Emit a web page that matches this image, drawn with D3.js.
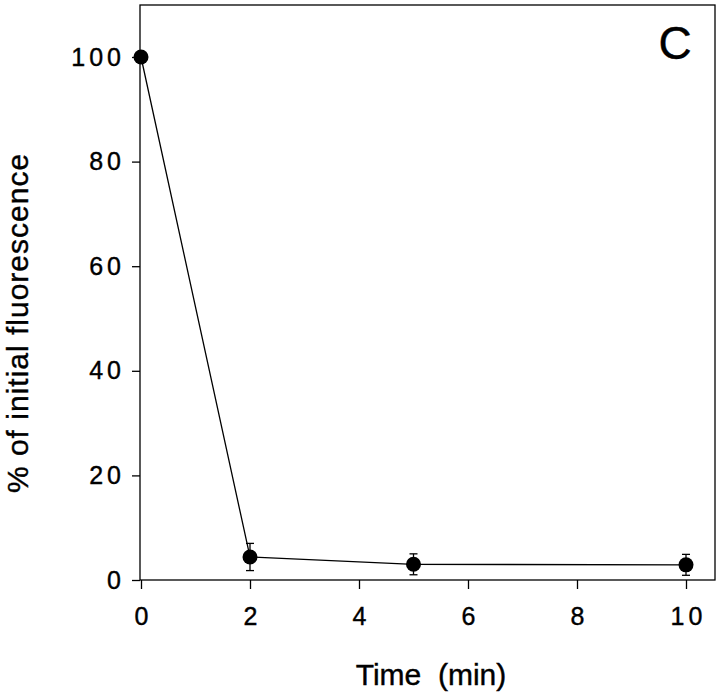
<!DOCTYPE html>
<html><head><meta charset="utf-8">
<script src="https://cdn.jsdelivr.net/npm/d3@7"></script>
<style>body{margin:0;background:#fff}svg{display:block}text{stroke:#000;stroke-width:0.4px}</style>
</head><body>
<script>
const times = [0, 2, 5, 10];
const values = [100, 4.4, 3.0, 2.9];
const errors = [0, 2.6, 2.0, 2.0];
const xTicks = [0, 2, 4, 6, 8, 10];
const yTicks = [0, 20, 40, 60, 80, 100];

(function () {
const W = 720, H = 694;
const svg = d3.select("body").append("svg").attr("width", W).attr("height", H);
const x = d3.scaleLinear().domain([0, 10]).range([141, 686]);
const y = d3.scaleLinear().domain([0, 100]).range([580, 57]);
const pL = 140, pR = 715, pT = 5, pB = 580;
const ls = 4;

svg.append("rect").attr("x", pL).attr("y", pT).attr("width", pR - pL).attr("height", pB - pT)
  .attr("fill", "none").attr("stroke", "#000").attr("stroke-width", 1.3);

const font = "Liberation Sans, Arial, sans-serif";
const xAxis = svg.append("g").attr("transform", `translate(0,${pB})`)
  .call(d3.axisBottom(x).tickValues(xTicks).tickSize(9).tickPadding(18).tickFormat(d3.format("d")));
xAxis.select(".domain").remove();
xAxis.selectAll("line").attr("stroke-width", 1.3);
xAxis.selectAll("text").attr("font-family", font).attr("font-size", 25).attr("letter-spacing", ls + "px")
  .attr("dx", ls / 2).attr("fill", "#000");

const yAxis = svg.append("g").attr("transform", `translate(${pL},0)`)
  .call(d3.axisLeft(y).tickValues(yTicks).tickSize(8).tickPadding(7).tickFormat(d3.format("d")));
yAxis.select(".domain").remove();
yAxis.selectAll("line").attr("stroke-width", 1.3);
yAxis.selectAll("text").attr("font-family", font).attr("font-size", 25).attr("letter-spacing", ls + "px").attr("fill", "#000");

const pts = times.map((t, i) => ({t, v: values[i], e: errors[i]}));
svg.append("path").datum(pts)
  .attr("d", d3.line().x(d => x(d.t)).y(d => y(d.v)))
  .attr("fill", "none").attr("stroke", "#000").attr("stroke-width", 1.3);

const eb = svg.append("g").selectAll("g").data(pts.filter(d => d.e > 0)).join("g");
eb.append("line").attr("x1", d => x(d.t)).attr("x2", d => x(d.t))
  .attr("y1", d => y(d.v + d.e)).attr("y2", d => y(d.v - d.e)).attr("stroke", "#000").attr("stroke-width", 1.3);
eb.append("line").attr("x1", d => x(d.t) - 4).attr("x2", d => x(d.t) + 4)
  .attr("y1", d => y(d.v + d.e)).attr("y2", d => y(d.v + d.e)).attr("stroke", "#000").attr("stroke-width", 1.3);
eb.append("line").attr("x1", d => x(d.t) - 4).attr("x2", d => x(d.t) + 4)
  .attr("y1", d => y(d.v - d.e)).attr("y2", d => y(d.v - d.e)).attr("stroke", "#000").attr("stroke-width", 1.3);

svg.append("g").selectAll("circle").data(pts).join("circle")
  .attr("cx", d => x(d.t)).attr("cy", d => y(d.v)).attr("r", 7.5).attr("fill", "#000");

svg.append("text").attr("x", 675).attr("y", 59).attr("text-anchor", "middle")
  .attr("font-family", font).attr("font-size", 46).text("C");

svg.append("text").attr("x", 431).attr("y", 685).attr("text-anchor", "middle")
  .attr("font-family", font).attr("font-size", 30).attr("xml:space", "preserve").text("Time  (min)");

svg.append("text").attr("transform", "translate(28,323) rotate(-90)").attr("text-anchor", "middle")
  .attr("font-family", font).attr("font-size", 30).attr("letter-spacing", "1px").text("% of initial fluorescence");
})();
</script>
</body></html>
